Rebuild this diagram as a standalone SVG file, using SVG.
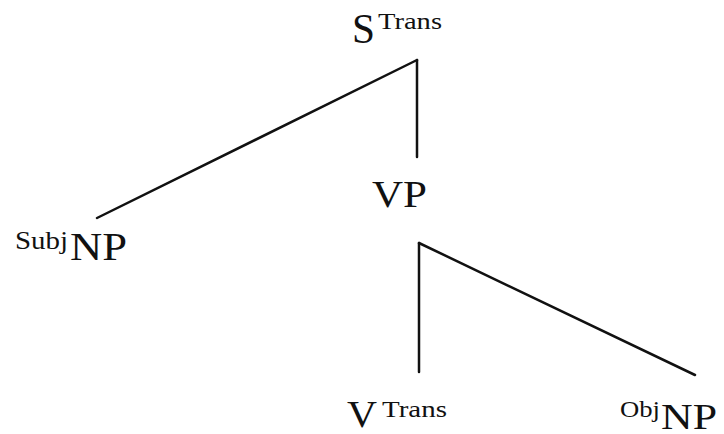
<svg xmlns="http://www.w3.org/2000/svg" width="724" height="434" viewBox="0 0 724 434">
<defs>
<style>
.edge{stroke:#111;stroke-width:2.5;fill:none;stroke-linecap:round}
</style>
</defs>
<rect width="724" height="434" fill="#fff"/>
<g id="connectors">
<line class="edge" x1="417" y1="60" x2="97" y2="218"/>
<line class="edge" x1="417" y1="60" x2="417" y2="157"/>
<line class="edge" x1="419" y1="243" x2="419" y2="372"/>
<line class="edge" x1="419" y1="243" x2="695" y2="375"/>
</g>
<g font-family="Liberation Serif, Times New Roman, serif" fill="#111">
<g id="S">
<text x="352" y="43" font-size="42" textLength="23" lengthAdjust="spacingAndGlyphs">S</text>
<text x="378" y="29" font-size="23" textLength="64" lengthAdjust="spacingAndGlyphs">Trans</text>
</g>
<g id="SubjNP">
<text x="15" y="249" font-size="25" textLength="53" lengthAdjust="spacingAndGlyphs">Subj</text>
<text x="70" y="260" font-size="40" textLength="57" lengthAdjust="spacingAndGlyphs">NP</text>
</g>
<g id="VP">
<text x="372" y="207" font-size="38" textLength="55" lengthAdjust="spacingAndGlyphs">VP</text>
</g>
<g id="V">
<text x="347" y="427" font-size="38" textLength="30" lengthAdjust="spacingAndGlyphs">V</text>
<text x="382" y="417" font-size="23" textLength="65" lengthAdjust="spacingAndGlyphs">Trans</text>
</g>
<g id="ObjNP">
<text x="620" y="417" font-size="23" textLength="40" lengthAdjust="spacingAndGlyphs">Obj</text>
<text x="661" y="429" font-size="36" textLength="56" lengthAdjust="spacingAndGlyphs">NP</text>
</g>
</g>
</svg>
